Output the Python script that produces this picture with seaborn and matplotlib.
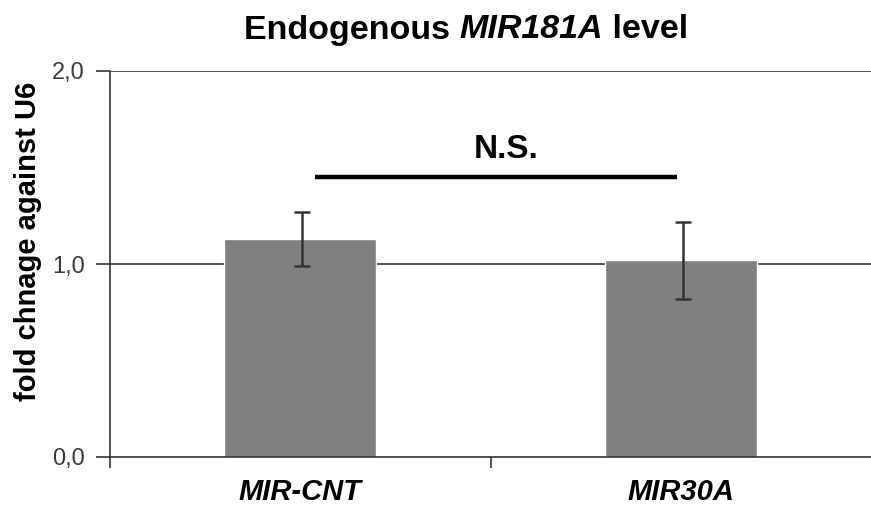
import matplotlib
matplotlib.use("Agg")
import matplotlib.pyplot as plt
import seaborn as sns
import pandas as pd
import numpy as np

categories = ["MIR-CNT", "MIR30A"]
values = [1.13, 1.02]
errors = [0.14, 0.20]
yticks = [0.0, 1.0, 2.0]
ytick_labels = ["0,0", "1,0", "2,0"]
sig_label = "N.S."
sig_level = 1.45

sns.set_theme(style="white")
plt.rcParams["font.family"] = ["Liberation Sans", "DejaVu Sans"]
plt.rcParams["text.color"] = "black"
plt.rcParams["axes.labelcolor"] = "black"
plt.rcParams["xtick.color"] = "black"

W, H = 871, 512
fig = plt.figure(figsize=(W / 100, H / 100), dpi=100)
ax = fig.add_axes([110 / W, 1 - 457 / H, (871 - 110) / W, (457 - 71) / H])

df = pd.DataFrame({"group": categories, "value": values})
sns.barplot(data=df, x="group", y="value", color="#808080", width=0.4,
            saturation=1, ax=ax, zorder=2, errorbar=None)
ax.errorbar(x=np.arange(len(categories)) + 0.005, y=values, yerr=errors, fmt="none",
            ecolor="#333333", elinewidth=1.8, capsize=6, capthick=1.8, zorder=3)

ax.set_xlim(-0.5, 1.5)
ax.set_ylim(0, 2.0)
ax.set_yticks(yticks)
ax.set_yticklabels(ytick_labels, fontsize=17, color="#3a3a3a")
for v in yticks[1:]:
    ax.axhline(v, color="#222222", lw=1.1, zorder=1)

ax.set_xticks([0, 1])
ax.set_xticklabels(categories, fontsize=21, fontweight="bold", fontstyle="italic", color="black")
ax.tick_params(axis="x", which="major", length=0, pad=15)
ax.set_xticks([-0.5, 0.5], minor=True)
ax.tick_params(axis="x", which="minor", length=8, width=1.2, color="#333333", direction="out", bottom=True)
ax.tick_params(axis="y", length=10, width=1.2, color="#333333", direction="out", left=True, pad=8)
ax.set_xlabel("")
ax.set_ylabel("fold chnage against U6", fontsize=21, fontweight="bold", color="black")
ax.yaxis.set_label_coords((28 - 110) / 761, (457 - 241) / 386)
ax.yaxis.label.set_va("center")

for s in ["top", "right"]:
    ax.spines[s].set_visible(False)
for s in ["left", "bottom"]:
    ax.spines[s].set_color("#333333")
    ax.spines[s].set_linewidth(1.2)

# significance bar
ax.plot([0.04, 0.99], [sig_level, sig_level], color="black", lw=3.2, solid_capstyle="butt", zorder=4)
ax.text(0.54, 1.595, sig_label, ha="center", va="center", fontsize=24, fontweight="bold", color="black")

# title with italic gene name
fig.canvas.draw()
r = fig.canvas.get_renderer()
parts = [("Endogenous ", "normal"), ("MIR181A", "italic"), (" level", "normal")]
texts = []
for s, st in parts:
    t = fig.text(0, 1 - 30 / H, s, fontsize=24.5, fontweight="bold", fontstyle=st,
                 va="center", ha="left", color="black")
    texts.append(t)
widths = [t.get_window_extent(r).width for t in texts]
total = sum(widths)
x = 466 - total / 2
for t, w in zip(texts, widths):
    t.set_x(x / W)
    x += w

fig.savefig("out.png", dpi=100)
